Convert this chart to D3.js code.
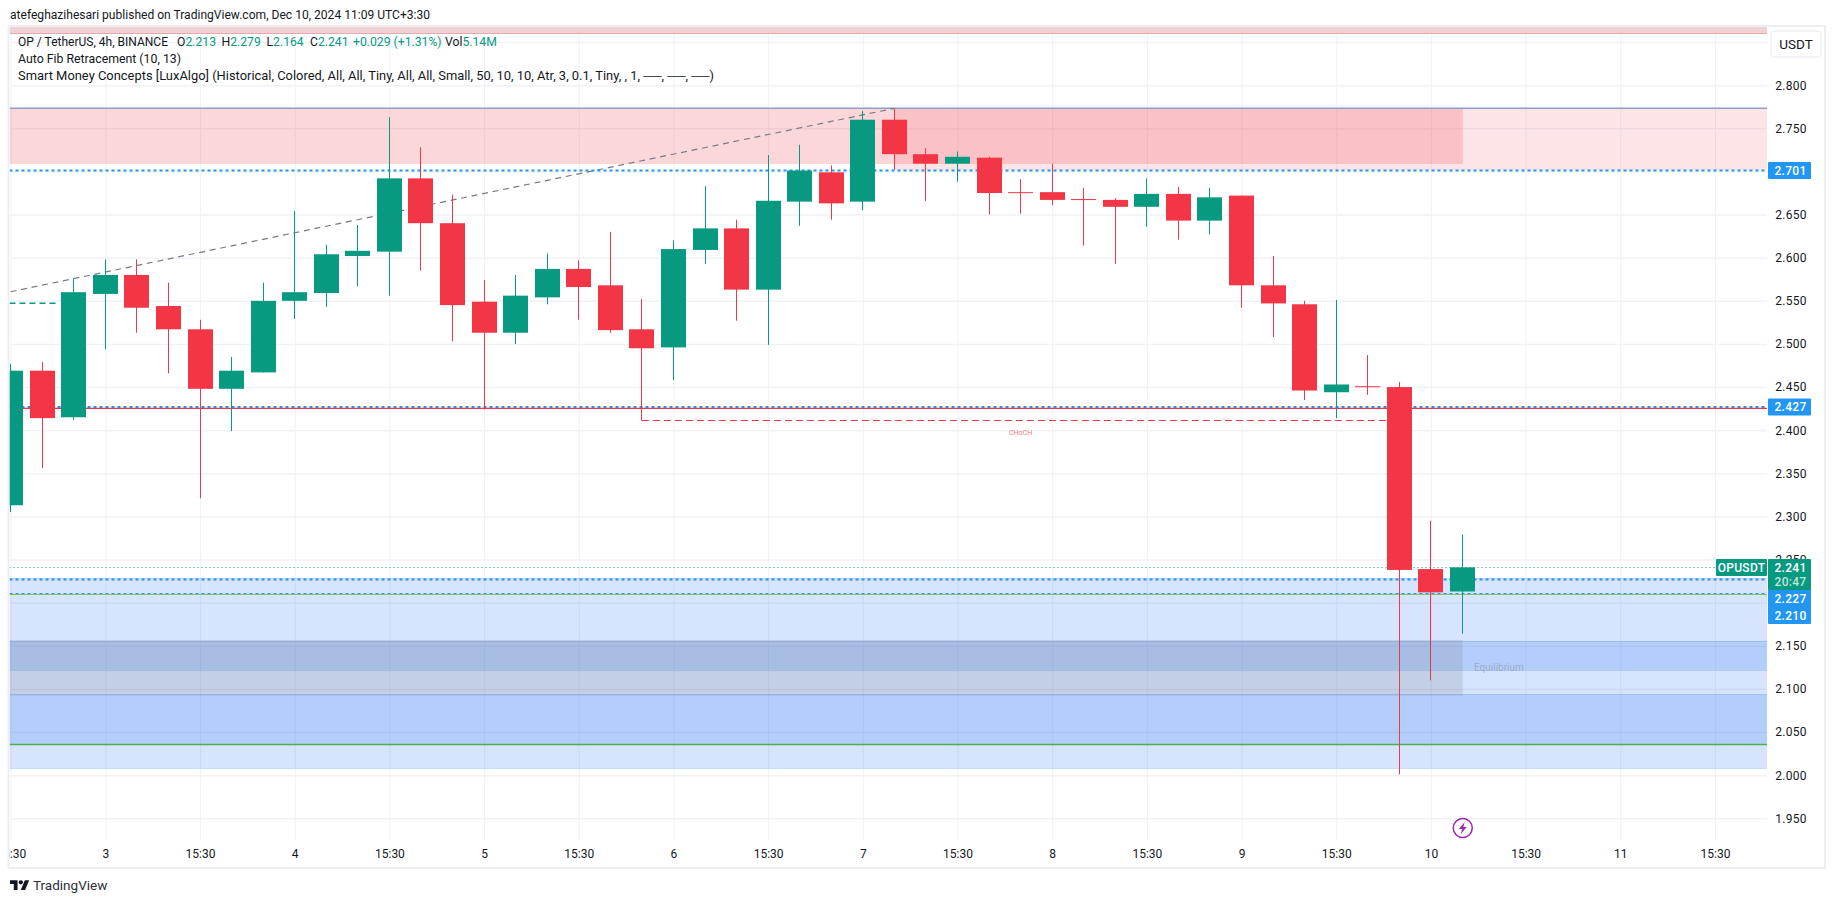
<!DOCTYPE html>
<html>
<head>
<meta charset="utf-8">
<title>OPUSDT 4h</title>
<script src="https://cdn.jsdelivr.net/npm/d3@7"></script>
<style>
  html, body { margin: 0; padding: 0; background: #fff; }
  svg { display: block; }
  text { font-family: Roboto, "Liberation Sans", sans-serif; fill: #131722; }
</style>
</head>
<body>
<div id="chart"></div>
<script>
// candles
const opens  = [2.313,2.469,2.415,2.558,2.580,2.544,2.517,2.448,2.467,2.550,2.559,2.602,2.607,2.692,2.640,2.549,2.513,2.554,2.587,2.568,2.517,2.496,2.609,2.634,2.563,2.665,2.699,2.665,2.760,2.720,2.709,2.716,2.676,2.676,2.668,2.667,2.659,2.674,2.643,2.672,2.568,2.546,2.444,2.451,2.450,2.239,2.213];
const highs  = [2.477,2.479,2.576,2.598,2.598,2.571,2.528,2.485,2.571,2.654,2.615,2.638,2.763,2.728,2.673,2.574,2.580,2.605,2.597,2.630,2.552,2.620,2.683,2.644,2.719,2.731,2.707,2.770,2.773,2.727,2.723,2.717,2.691,2.709,2.681,2.669,2.692,2.682,2.681,2.672,2.602,2.550,2.551,2.487,2.456,2.295,2.279];
const lows   = [2.305,2.356,2.412,2.494,2.513,2.466,2.321,2.399,2.467,2.529,2.543,2.567,2.556,2.585,2.503,2.424,2.500,2.546,2.528,2.513,2.411,2.458,2.593,2.527,2.499,2.637,2.644,2.655,2.702,2.666,2.688,2.650,2.651,2.661,2.614,2.593,2.636,2.621,2.627,2.542,2.508,2.435,2.414,2.441,2.001,2.110,2.164];
const closes = [2.469,2.414,2.560,2.580,2.542,2.517,2.448,2.469,2.550,2.560,2.604,2.608,2.692,2.640,2.545,2.513,2.556,2.587,2.566,2.516,2.495,2.610,2.634,2.563,2.666,2.701,2.663,2.760,2.720,2.709,2.717,2.675,2.675,2.667,2.667,2.659,2.674,2.643,2.670,2.568,2.547,2.446,2.453,2.450,2.238,2.212,2.241];

const timeTicks  = [0,3,6,9,12,15,18,21,24,27,30,33,36,39,42,45,48,51,54];
const timeLabels = ['15:30','3','15:30','4','15:30','5','15:30','6','15:30','7','15:30','8','15:30','9','15:30','10','15:30','11','15:30'];
// 2.200 and 2.700 sit behind the price tags, so they only get a grid line
const priceTicks = [1.95,2.00,2.05,2.10,2.15,2.25,2.30,2.35,2.40,2.45,2.50,2.55,2.60,2.65,2.75,2.80];
const gridPrices = priceTicks.concat([2.20,2.70,2.85]);

// price levels of the indicator zones and lines
const premiumHigh = 2.7732, premiumLow = 2.7086, premiumLowOuter = 2.7014;
const discountBands = [[2.2283, 2.008], [2.1556, 2.1219], [2.0938, 2.0358]];
const equilibriumBox = [2.1568, 2.0922];
const levelDotted = [2.701, 2.427, 2.227, 2.210];
const lastPrice = 2.241, redLine = 2.4254, greenLines = [2.2097, 2.0355];
const topStrip = 2.8605;
const fibTrend = [[-1, 2.553], [28, 2.7732]];
const bosHigh = 2.5471, chochLow = 2.4114;

const W = 1835, H = 903;
const pane = { left: 9.5, right: 1767, top: 27, bottom: 840 };
const UP = '#089981', DOWN = '#f23645', BLUE = '#2196f3', GRID = '#f1f2f5';
const DISCOUNT = 'rgba(39,113,245,0.19)';

const x = d3.scaleLinear().domain([0, 46]).range([10.7, 1462.46]);
const y = d3.scaleLinear().domain([2.8, 2.0]).range([85.2, 775.2]);
// tradingview snaps bars to whole pixels
const px = i => Math.floor(x(i));

const svg = d3.select('#chart').append('svg').attr('width', W).attr('height', H);

svg.append('clipPath').attr('id', 'pane').append('rect')
  .attr('x', pane.left).attr('y', pane.top)
  .attr('width', pane.right - pane.left).attr('height', pane.bottom - pane.top);
svg.append('clipPath').attr('id', 'timeclip').append('rect')
  .attr('x', pane.left).attr('y', pane.bottom)
  .attr('width', pane.right - pane.left).attr('height', 27);

svg.append('text').attr('x', 10).attr('y', 19).style('font-size', '12px')
  .attr('textLength', 420).attr('lengthAdjust', 'spacingAndGlyphs')
  .text('atefeghazihesari published on TradingView.com, Dec 10, 2024 11:09 UTC+3:30');

// grid
const plot = svg.append('g').attr('clip-path', 'url(#pane)');
const gridY = d3.axisLeft(y).tickValues(gridPrices).tickSize(pane.left - pane.right).tickFormat('');
plot.append('g').attr('transform', `translate(${pane.left},0)`).call(gridY)
  .call(g => g.select('.domain').remove())
  .selectAll('line').attr('stroke', GRID).attr('stroke-width', 1.5);
const gridX = d3.axisTop(x).tickValues(timeTicks).tickSize(pane.top - pane.bottom).tickFormat('');
plot.append('g').attr('transform', `translate(0,${pane.top})`).call(gridX)
  .call(g => g.select('.domain').remove())
  .selectAll('line').attr('stroke', GRID).attr('stroke-width', 1);

function band(x0, x1, top, bottom, fill) {
  plot.append('rect').attr('x', x0).attr('width', x1 - x0)
    .attr('y', y(top)).attr('height', y(bottom) - y(top)).attr('fill', fill);
}
function hline(x0, x1, price, color, width, dash) {
  // 1px lines go on a pixel centre, otherwise they blur to a pale colour
  const yy = width === 1 ? Math.round(y(price)) + 0.5 : y(price);
  plot.append('line').attr('x1', x0).attr('x2', x1)
    .attr('y1', yy).attr('y2', yy)
    .attr('stroke', color).attr('stroke-width', width)
    .attr('stroke-dasharray', dash || null);
}

// strip of a zone cut off by the top of the pane
plot.append('rect').attr('x', pane.left).attr('y', pane.top)
  .attr('width', pane.right - pane.left).attr('height', y(topStrip) - pane.top).attr('fill', '#f0d2d5');
hline(pane.left, pane.right, topStrip, '#e3a9ae', 1);

// premium zone
const swingHigh = x(28);
band(pane.left, x(46.01), premiumHigh, premiumLow, 'rgba(242,54,69,0.2)');
band(swingHigh, pane.right, premiumHigh, premiumLowOuter, 'rgba(242,54,69,0.13)');
hline(pane.left, pane.right, premiumHigh, '#8e9dce', 1.5);

// discount zones
discountBands.forEach(b => {
  band(pane.left, pane.right, b[0], b[1], DISCOUNT);
  hline(pane.left, pane.right, b[0], 'rgba(39,113,245,0.2)', 1);
  hline(pane.left, pane.right, b[1], 'rgba(39,113,245,0.2)', 1);
});

// trend line of the fib tool
plot.append('line')
  .attr('x1', x(fibTrend[0][0])).attr('y1', y(fibTrend[0][1]))
  .attr('x2', x(fibTrend[1][0])).attr('y2', y(fibTrend[1][1]))
  .attr('stroke', '#787b86').attr('stroke-width', 1.2).attr('stroke-dasharray', '6 4.7');

levelDotted.forEach(p => hline(pane.left, pane.right, p, BLUE, 2, '3 3'));
hline(pane.left, pane.right, redLine, DOWN, 1.2);
hline(pane.left, pane.right, greenLines[0], '#7cc576', 1);
hline(pane.left, pane.right, greenLines[1], '#4caf50', 1.5);
hline(pane.left, 1716, lastPrice, UP, 1, '1 3');
hline(pane.left, x(1.46), bosHigh, UP, 1.5, '6 4');
hline(x(20), x(43.6), chochLow, DOWN, 1, '7 4');

// candles
const bars = d3.range(opens.length);
plot.selectAll('.wick').data(bars).join('rect').attr('class', 'wick')
  .attr('x', i => px(i)).attr('width', 1)
  .attr('y', i => y(highs[i])).attr('height', i => y(lows[i]) - y(highs[i]))
  .attr('fill', i => closes[i] >= opens[i] ? UP : DOWN);
plot.selectAll('.body').data(bars).join('rect').attr('class', 'body')
  .attr('x', i => px(i) - 12).attr('width', 25)
  .attr('y', i => y(Math.max(opens[i], closes[i])))
  .attr('height', i => Math.max(1, Math.abs(y(opens[i]) - y(closes[i]))))
  .attr('fill', i => closes[i] >= opens[i] ? UP : DOWN);

band(pane.left, x(46.01), equilibriumBox[0], equilibriumBox[1], 'rgba(120,123,134,0.2)');

svg.append('text').attr('x', x(32)).attr('y', y(2.395)).attr('text-anchor', 'middle')
  .style('font-size', '7px').style('fill', 'rgba(242,54,69,0.7)').text('CHoCH');
svg.append('text').attr('x', 1474).attr('y', y(2.1205)).style('font-size', '10px')
  .style('fill', 'rgba(120,123,134,0.45)').text('Equilibrium');

// lightning mark
const bolt = svg.append('g').attr('transform', `translate(${x(46) + 0.3},828)`);
bolt.append('circle').attr('r', 9.5).attr('fill', '#fff').attr('stroke', '#9c27b0').attr('stroke-width', 1.5);
bolt.append('path').attr('d', 'M2,-6 L-4,1 L-0.5,1 L-2,6 L4,-1 L0.5,-1 Z').attr('fill', '#9c27b0');

// frame
const frame = svg.append('g').attr('stroke', '#eceef3').attr('stroke-width', 2);
frame.append('line').attr('x1', 8.5).attr('x2', 8.5).attr('y1', 26).attr('y2', 868);
frame.append('line').attr('x1', 8).attr('x2', 1826).attr('y1', 26).attr('y2', 26);
frame.append('line').attr('x1', 8).attr('x2', 1826).attr('y1', 868).attr('y2', 868);
frame.append('line').attr('x1', 1825).attr('x2', 1825).attr('y1', 26).attr('y2', 868);

// axes
const priceAxis = d3.axisRight(y).tickValues(priceTicks).tickSize(0).tickFormat(d3.format('.3f'));
svg.append('g').attr('transform', 'translate(1768,0)').call(priceAxis)
  .call(g => g.select('.domain').remove())
  .selectAll('text').attr('x', 23).attr('text-anchor', 'middle')
  .style('font-size', '12px').style('letter-spacing', '0.3px');

const timeAxis = d3.axisBottom(x).tickValues(timeTicks).tickSize(0)
  .tickFormat((d, i) => timeLabels[i]);
svg.append('g').attr('clip-path', 'url(#timeclip)').append('g')
  .attr('transform', `translate(0,${pane.bottom})`).call(timeAxis)
  .call(g => g.select('.domain').remove())
  .selectAll('text').attr('y', 9).style('font-size', '12px');

// header lines over the chart
const head = svg.append('g').style('font-size', '12.2px');
function headRow(yy, s, len) {
  head.append('text').attr('x', 18).attr('y', yy)
    .attr('textLength', len).attr('lengthAdjust', 'spacingAndGlyphs').text(s);
}
headRow(46, 'OP / TetherUS, 4h, BINANCE', 150);
const legendX = [177, 221.5, 266.5, 310];
['O', 'H', 'L', 'C'].forEach((k, i) => {
  const t = head.append('text').attr('x', legendX[i]).attr('y', 46);
  t.append('tspan').text(k);
  t.append('tspan').style('fill', UP).text([opens[46], highs[46], lows[46], closes[46]][i].toFixed(3));
});
head.append('text').attr('x', 353).attr('y', 46).style('fill', UP).text('+0.029 (+1.31%)');
const vol = head.append('text').attr('x', 445).attr('y', 46);
vol.append('tspan').text('Vol');
vol.append('tspan').style('fill', UP).text('5.14M');
headRow(63, 'Auto Fib Retracement (10, 13)', 163);
headRow(80, 'Smart Money Concepts [LuxAlgo] (Historical, Colored, All, All, Tiny, All, All, Small, 50, 10, 10, Atr, 3, 0.1, Tiny, , 1, ──, ──, ──)', 696);

// USDT button
svg.append('rect').attr('x', 1771).attr('y', 31).attr('width', 50).attr('height', 26).attr('rx', 4)
  .attr('fill', '#fff').attr('stroke', '#eeeff3').attr('stroke-width', 1.5);
svg.append('text').attr('x', 1796).attr('y', 49).attr('text-anchor', 'middle')
  .style('font-size', '13.5px').text('USDT');

// price labels on the axis
function tag(x0, x1, y0, y1, fill) {
  svg.append('rect').attr('x', x0).attr('y', y0).attr('width', x1 - x0).attr('height', y1 - y0)
    .attr('rx', 1).attr('fill', fill);
}
function tagText(xc, yc, s, fill) {
  svg.append('text').attr('x', xc).attr('y', yc).attr('dy', '0.35em').attr('text-anchor', 'middle')
    .style('font-size', '12px').style('fill', fill).style('font-weight', 500)
    .style('letter-spacing', '0.3px').text(s);
}
tag(1768, 1811, y(2.701) - 8.5, y(2.701) + 8.5, BLUE);
tagText(1790.5, y(2.701), '2.701', '#fff');
tag(1768, 1811, y(2.427) - 8.5, y(2.427) + 8.5, BLUE);
tagText(1790.5, y(2.427), '2.427', '#fff');
tag(1768, 1811, 589, 624, BLUE);
tagText(1790.5, 598.5, '2.227', '#fff');
tagText(1790.5, 615.5, '2.210', '#fff');
tag(1768, 1811, 559, 590, UP);
tagText(1790.5, 568, '2.241', '#fff');
tagText(1790.5, 581.5, '20:47', '#bfe5dd');
tag(1716, 1767, 559, 576, UP);
tagText(1741.5, 567.5, 'OPUSDT', '#fff');

// tradingview logo
const logo = svg.append('g').attr('transform', 'translate(10,878) scale(0.54)');
logo.append('path').attr('d', 'M14 22H7V11H0V4h14v18zM28 22h-8l7.5-18h8L28 22z').attr('fill', '#131722');
logo.append('circle').attr('cx', 20).attr('cy', 8).attr('r', 4).attr('fill', '#131722');
svg.append('text').attr('x', 33).attr('y', 890).style('font-size', '13.5px').style('fill', '#2a2e39').text('TradingView');
</script>
</body>
</html>
